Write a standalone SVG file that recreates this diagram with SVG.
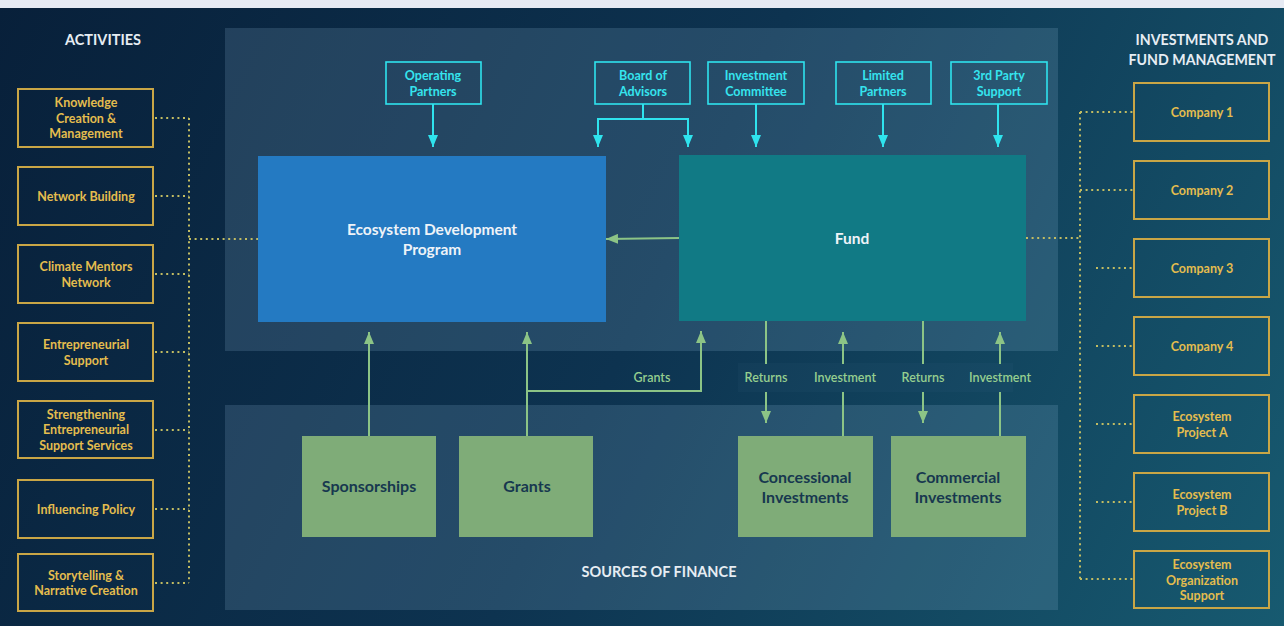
<svg xmlns="http://www.w3.org/2000/svg" width="1284" height="626" viewBox="0 0 1284 626">
  <defs>
    <linearGradient id="bg" x1="0" y1="0" x2="1284" y2="626" gradientUnits="userSpaceOnUse">
      <stop offset="0" stop-color="#08203a"/>
      <stop offset="0.5" stop-color="#0d3350"/>
      <stop offset="1" stop-color="#175a70"/>
    </linearGradient>
    <marker id="arrCyan" viewBox="0 0 12 10" refX="12" refY="5" markerWidth="12" markerHeight="10" markerUnits="userSpaceOnUse" orient="auto">
      <path d="M0,0 L12,5 L0,10 z" fill="#2fe3ee"/>
    </marker>
    <marker id="arrGreen" viewBox="0 0 12 10" refX="12" refY="5" markerWidth="12" markerHeight="10" markerUnits="userSpaceOnUse" orient="auto">
      <path d="M0,0 L12,5 L0,10 z" fill="#8cc486"/>
    </marker>
  </defs>
  <style>
    text { font-family: Lato, "Open Sans", "Liberation Sans", sans-serif; font-weight: 700; text-anchor: middle; }
    .panel { fill: #a0c8e6; fill-opacity: 0.17; }
    .head { fill: #e6edf3; font-size: 14.5px; }
    .head2 { fill: #e6edf3; font-size: 14.2px; }
    .act rect, .inv rect { fill: none; stroke: #c9a646; stroke-width: 2; }
    .act text, .inv text { fill: #e4bd4e; font-size: 12.5px; }
    .role rect { fill: none; stroke: #2fe3ee; stroke-width: 1.6; }
    .role text { fill: #35e4ee; font-size: 12.5px; }
    .main text { fill: #eef3f8; font-size: 15.5px; }
    .src rect { fill: #7fac78; }
    .src text { fill: #17384f; font-size: 16px; }
    .dot { fill: none; stroke: #c2bc62; stroke-width: 2; stroke-dasharray: 2 3.6; }
    .cy { fill: none; stroke: #2fe3ee; stroke-width: 2; }
    .gr { fill: none; stroke: #8cc486; stroke-width: 2; }
    .lbl { fill: #96cf8f; font-size: 12.5px; font-weight: 600; }
  </style>

  <!-- backdrop -->
  <rect x="0" y="0" width="1284" height="626" fill="url(#bg)"/>
  <rect x="0" y="0" width="1284" height="8" fill="#e6eaf3"/>

  <!-- panels -->
  <rect class="panel" x="225" y="28" width="833" height="323"/>
  <rect class="panel" x="225" y="405" width="833" height="205"/>
  <rect x="738" y="363" width="275" height="29" fill="#a0c8e6" fill-opacity="0.03"/>

  <!-- headings -->
  <text class="head" x="103" y="45">ACTIVITIES</text>
  <text class="head2" x="1202" y="45">INVESTMENTS AND</text>
  <text class="head2" x="1202" y="65">FUND MANAGEMENT</text>
  <text class="head" x="659" y="577">SOURCES OF FINANCE</text>

  <!-- connectors -->
  <g id="connectors">
    <!-- activities bus -->
    <path class="dot" d="M155,118 H189 M155,196 H189 M155,274 H189 M155,352 H189 M155,430 H189 M155,509 H189 M155,583 H189 M189,118 V583 M189,239 H258"/>
    <!-- investments bus -->
    <path class="dot" d="M1026,238 H1080 M1080,112 V579 M1080,112 H1134 M1080,190 H1134 M1096,268 H1134 M1096,346 H1134 M1096,424 H1134 M1096,502 H1134 M1080,579 H1134"/>
    <!-- governance arrows -->
    <path class="cy" d="M433,104 V147" marker-end="url(#arrCyan)"/>
    <path class="cy" d="M643,104 V119 H598 V147" marker-end="url(#arrCyan)"/>
    <path class="cy" d="M643,119 H688 V147" marker-end="url(#arrCyan)"/>
    <path class="cy" d="M756,104 V147" marker-end="url(#arrCyan)"/>
    <path class="cy" d="M883,104 V147" marker-end="url(#arrCyan)"/>
    <path class="cy" d="M998,104 V147" marker-end="url(#arrCyan)"/>
    <!-- fund to program -->
    <path class="gr" d="M679,238 L606,239" marker-end="url(#arrGreen)"/>
    <!-- finance flows -->
    <path class="gr" d="M369,436 V332" marker-end="url(#arrGreen)"/>
    <path class="gr" d="M527,436 V332" marker-end="url(#arrGreen)"/>
    <path class="gr" d="M527,391 H701 V331" marker-end="url(#arrGreen)"/>
    <path class="gr" d="M766,321 V364"/>
    <path class="gr" d="M766,392 V423" marker-end="url(#arrGreen)"/>
    <path class="gr" d="M843,436 V392"/>
    <path class="gr" d="M843,364 V332" marker-end="url(#arrGreen)"/>
    <path class="gr" d="M923,321 V364"/>
    <path class="gr" d="M923,392 V423" marker-end="url(#arrGreen)"/>
    <path class="gr" d="M1000,436 V392"/>
    <path class="gr" d="M1000,364 V332" marker-end="url(#arrGreen)"/>
    <text class="lbl" x="652" y="382">Grants</text>
    <text class="lbl" x="766" y="382">Returns</text>
    <text class="lbl" x="845" y="382">Investment</text>
    <text class="lbl" x="923" y="382">Returns</text>
    <text class="lbl" x="1000" y="382">Investment</text>
  </g>

  <!-- activities -->
  <g id="act-knowledge" class="act"><rect x="18" y="89" width="135" height="58"/><text x="86" y="107">Knowledge</text><text x="86" y="122.5">Creation &amp;</text><text x="86" y="138">Management</text></g>
  <g id="act-network" class="act"><rect x="18" y="167" width="135" height="58"/><text x="86" y="200.5">Network Building</text></g>
  <g id="act-mentors" class="act"><rect x="18" y="245" width="135" height="58"/><text x="86" y="271">Climate Mentors</text><text x="86" y="286.5">Network</text></g>
  <g id="act-support" class="act"><rect x="18" y="323" width="135" height="58"/><text x="86" y="349">Entrepreneurial</text><text x="86" y="364.5">Support</text></g>
  <g id="act-services" class="act"><rect x="18" y="401" width="135" height="57"/><text x="86" y="418.5">Strengthening</text><text x="86" y="434">Entrepreneurial</text><text x="86" y="449.5">Support Services</text></g>
  <g id="act-policy" class="act"><rect x="18" y="480" width="135" height="58"/><text x="86" y="513.5">Influencing Policy</text></g>
  <g id="act-story" class="act"><rect x="18" y="554" width="135" height="57"/><text x="86" y="580">Storytelling &amp;</text><text x="86" y="595">Narrative Creation</text></g>

  <!-- investments -->
  <g id="inv-c1" class="inv"><rect x="1134" y="83" width="135" height="58"/><text x="1202" y="117">Company 1</text></g>
  <g id="inv-c2" class="inv"><rect x="1134" y="161" width="135" height="58"/><text x="1202" y="195">Company 2</text></g>
  <g id="inv-c3" class="inv"><rect x="1134" y="239" width="135" height="58"/><text x="1202" y="273">Company 3</text></g>
  <g id="inv-c4" class="inv"><rect x="1134" y="317" width="135" height="58"/><text x="1202" y="351">Company 4</text></g>
  <g id="inv-pa" class="inv"><rect x="1134" y="395" width="135" height="58"/><text x="1202" y="421">Ecosystem</text><text x="1202" y="436.5">Project A</text></g>
  <g id="inv-pb" class="inv"><rect x="1134" y="473" width="135" height="58"/><text x="1202" y="499">Ecosystem</text><text x="1202" y="514.5">Project B</text></g>
  <g id="inv-org" class="inv"><rect x="1134" y="551" width="135" height="57"/><text x="1202" y="569">Ecosystem</text><text x="1202" y="584.5">Organization</text><text x="1202" y="600">Support</text></g>

  <!-- governance roles -->
  <g id="role-operating" class="role"><rect x="386" y="62" width="95" height="42"/><text x="433" y="80">Operating</text><text x="433" y="96">Partners</text></g>
  <g id="role-board" class="role"><rect x="595" y="62" width="95" height="42"/><text x="643" y="80">Board of</text><text x="643" y="96">Advisors</text></g>
  <g id="role-committee" class="role"><rect x="708" y="62" width="96" height="42"/><text x="756" y="80">Investment</text><text x="756" y="96">Committee</text></g>
  <g id="role-limited" class="role"><rect x="836" y="62" width="95" height="42"/><text x="883" y="80">Limited</text><text x="883" y="96">Partners</text></g>
  <g id="role-third" class="role"><rect x="951" y="62" width="96" height="42"/><text x="999" y="80">3rd Party</text><text x="999" y="96">Support</text></g>

  <!-- core blocks -->
  <g id="edp" class="main"><rect x="258" y="156" width="348" height="166" fill="#247ac2"/><text x="432" y="235">Ecosystem Development</text><text x="432" y="255">Program</text></g>
  <g id="fund" class="main"><rect x="679" y="155" width="347" height="166" fill="#117a85"/><text x="852" y="244">Fund</text></g>

  <!-- sources of finance -->
  <g id="src-sponsorships" class="src"><rect x="302" y="436" width="134" height="101"/><text x="369" y="492">Sponsorships</text></g>
  <g id="src-grants" class="src"><rect x="459" y="436" width="134" height="101"/><text x="527" y="492">Grants</text></g>
  <g id="src-concessional" class="src"><rect x="738" y="436" width="135" height="101"/><text x="805" y="483">Concessional</text><text x="805" y="503">Investments</text></g>
  <g id="src-commercial" class="src"><rect x="891" y="436" width="135" height="101"/><text x="958" y="483">Commercial</text><text x="958" y="503">Investments</text></g>
</svg>
